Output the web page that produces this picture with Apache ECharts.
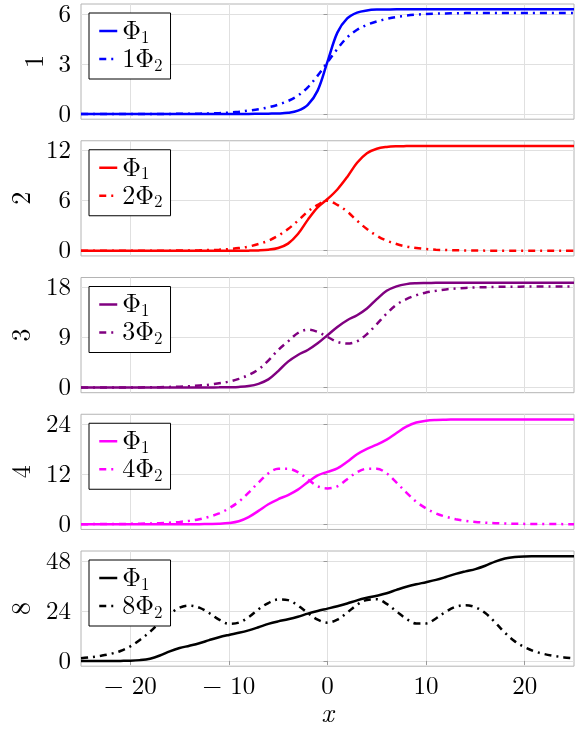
<!DOCTYPE html>
<html>
<head>
<meta charset="utf-8">
<script src="https://cdn.jsdelivr.net/npm/echarts@6/dist/echarts.min.js"></script>
<style>
  html, body { margin: 0; padding: 0; background: #fff; }
  #chart { width: 588px; height: 729px; }
</style>
</head>
<body>
<div id="chart"></div>
<script>
// Sample positions along x
const xs = [-25,-24,-23,-22,-21,-20,-19,-18,-17,-16,-15,-14,-13,-12,-11,-10,-9,-8,-7,-6,-5,-4,-3,-2,-1,
            0,1,2,3,4,5,6,7,8,9,10,11,12,13,14,15,16,17,18,19,20,21,22,23,24,25];

// N = 1
const phi1_n1 = [0,0,0,0,0,0,0,0,0,0,0,0,0,0,0,0,0,0,
                 0.01,0.02,0.03,0.07,0.2,0.55,1.4,3.14,4.88,5.73,6.08,6.21,6.26,6.27,
                 6.28,6.28,6.28,6.28,6.28,6.28,6.28,6.28,6.28,6.28,6.28,6.28,6.28,6.28,6.28,6.28,6.28,6.28,6.28];
const phi2_n1 = [0,0,0,0,0,0,0,0,0,0,
                 0.01,0.01,0.02,0.03,0.05,0.08,0.13,0.2,0.28,0.4,0.56,0.78,1.1,1.6,2.3,3.1,
                 3.9,4.6,5.05,5.35,5.55,5.7,5.82,5.9,5.96,6.0,6.02,6.03,6.04,
                 6.05,6.05,6.05,6.05,6.05,6.05,6.05,6.05,6.05,6.05,6.05,6.05];

// N = 2
const phi1_n2 = [0,0,0,0,0,0,0,0,0,0,0,0,0,0,0,0,0,
                 0.01,0.04,0.12,0.33,0.85,2.0,3.7,5.2,6.2,7.35,8.85,10.55,11.7,12.24,12.45,12.53,12.55,12.56,
                 12.57,12.57,12.57,12.57,12.57,12.57,12.57,12.57,12.57,12.57,12.57,12.57,12.57,12.57,12.57,12.57];
const phi2_n2 = [0.01,0.01,0.01,0.01,0.01,0.01,0.01,0.01,0.01,0.01,
                 0.02,0.03,0.05,0.08,0.12,0.2,0.32,0.5,0.8,1.2,1.8,2.6,3.6,4.7,5.5,6.0,
                 5.5,4.7,3.6,2.6,1.8,1.2,0.8,0.5,0.32,0.2,0.12,0.08,0.05,0.03,0.02,
                 0.01,0.01,0.01,0.01,0.01,0.01,0.01,0.01,0.01,0.01];

// N = 3
const phi1_n3 = [0,0,0,0,0,0,0,0,0,0,0,0,0,
                 0.01,0.02,0.05,0.1,0.25,0.65,1.45,2.95,4.65,5.85,6.75,7.95,9.42,
                 10.9,12.1,13.0,14.2,15.9,17.4,18.2,18.6,18.75,18.8,18.83,18.84,
                 18.85,18.85,18.85,18.85,18.85,18.85,18.85,18.85,18.85,18.85,18.85,18.85,18.85];
const phi2_n3 = [0,0,0,0,0,0,0.01,0.03,0.05,0.1,0.15,0.23,0.35,0.5,0.75,1.05,1.55,2.25,3.25,4.85,6.75,8.3,9.8,10.4,10.0,
                 9.1,8.2,7.9,8.3,9.6,11.4,13.3,14.9,15.9,16.6,17.1,17.4,17.65,17.8,17.92,18.0,18.05,18.1,18.12,18.14,
                 18.15,18.15,18.15,18.15,18.15,18.15];

// N = 4
const phi1_n4 = [0,0,0,0,0,0,0,0,0,0,0,0,
                 0.01,0.05,0.11,0.28,0.7,1.7,3.2,4.8,6.0,7.0,8.3,10.1,11.7,12.57,
                 13.4,15.0,16.8,18.1,19.1,20.3,21.9,23.4,24.4,24.85,25.02,25.08,25.12,
                 25.13,25.13,25.13,25.13,25.13,25.13,25.13,25.13,25.13,25.13,25.13,25.13];
const phi2_n4 = [0.01,0.02,0.03,0.04,0.05,0.08,0.12,0.18,0.26,0.38,0.55,0.8,1.2,1.8,2.6,3.8,5.4,7.6,10.0,12.2,13.3,13.3,12.5,10.8,9.1,
                 8.6,
                 9.1,10.8,12.5,13.3,13.3,12.2,10.0,7.6,5.4,3.8,2.6,1.8,1.2,0.8,0.55,0.38,0.26,0.18,0.12,0.08,0.05,0.04,0.03,0.02,0.01];

// N = 8
const phi1_n8 = [0,0,0,0,
                 0.04,0.1,0.4,1.1,2.6,4.6,6.2,7.3,8.5,10.0,11.4,12.5,13.5,14.7,16.2,17.8,19.0,20.0,21.2,22.7,24.0,25.13,
                 26.3,27.6,29.1,30.3,31.3,32.5,34.1,35.6,36.8,37.8,38.9,40.3,41.8,43.0,44.1,45.7,47.7,49.2,49.9,50.17,50.23,
                 50.27,50.27,50.27,50.27];
const phi2_n8 = [1.3,1.8,2.5,3.4,4.8,7.0,10.2,14.0,18.5,22.5,25.6,26.6,25.6,23.0,19.8,17.9,18.4,21.0,24.8,27.8,29.5,29.2,26.6,23.0,19.8,
                 18.4,
                 19.8,23.2,27.0,29.3,29.6,27.4,23.8,20.2,18.0,18.0,20.4,23.6,26.0,26.8,25.8,23.0,18.5,13.5,9.4,6.6,4.6,3.3,2.4,1.7,1.2];

// Panel labels, upper plateau of Φ1 and y tick values
const panelN = ['1', '2', '3', '4', '8'];
const plateau = [6.2832, 12.5664, 18.8496, 25.1327, 50.2655];
const yTicks = [[0, 3, 6], [0, 6, 12], [0, 9, 18], [0, 12, 24], [0, 24, 48]];
const xTicks = [-20, -10, 0, 10, 20];
const phi1Sets = [phi1_n1, phi1_n2, phi1_n3, phi1_n4, phi1_n8];
const phi2Sets = [phi2_n1, phi2_n2, phi2_n3, phi2_n4, phi2_n8];
const colors = ['#0000ff', '#ff0000', '#800080', '#ff00ff', '#000000'];

const FONT = "'Latin Modern Roman','CMU Serif','Liberation Serif','DejaVu Serif',serif";
const tops = [4, 140.75, 277.5, 414.25, 551];
const H = 115.2;
const dashDot = [7, 5, 2, 5];

const grids = [], xAxes = [], yAxes = [], series = [], legends = [];
const legendText = {};

panelN.forEach((n, i) => {
  const last = i === panelN.length - 1;
  const top = plateau[i];
  grids.push({
    left: 81, right: 14, top: tops[i], height: H,
    show: true, borderColor: '#b4b4b4', borderWidth: 1, backgroundColor: 'transparent'
  });
  xAxes.push({
    type: 'value', gridIndex: i, min: -25, max: 25,
    axisLine: { show: false },
    axisTick: { show: last, customValues: xTicks, length: 4, lineStyle: { color: '#9a9a9a' } },
    axisLabel: {
      show: last, customValues: xTicks, margin: 8,
      fontFamily: FONT, fontSize: 25, color: '#000',
      formatter: v => (v < 0 ? '\u2212 ' + Math.abs(v) : String(v))
    },
    splitLine: { show: true, lineStyle: { color: '#e0e0e0', width: 1 } },
    name: last ? 'x' : '', nameLocation: 'middle', nameGap: 33,
    nameTextStyle: { fontFamily: FONT, fontSize: 27, fontStyle: 'italic', color: '#000' }
  });
  yAxes.push({
    type: 'value', gridIndex: i, min: -0.05 * top, max: 1.05 * top,
    axisLine: { show: false },
    axisTick: { show: true, customValues: yTicks[i], length: 4, lineStyle: { color: '#9a9a9a' } },
    axisLabel: { customValues: yTicks[i], margin: 10, fontFamily: FONT, fontSize: 25, color: '#000' },
    splitLine: { show: true, lineStyle: { color: '#e0e0e0', width: 1 } },
    name: n, nameLocation: 'middle', nameRotate: 90, nameGap: i === 0 ? 27 : 39,
    nameTextStyle: { fontFamily: FONT, fontSize: 26, color: '#000' }
  });

  const nameA = 'phi1_' + n, nameB = 'phi2_' + n;
  legendText[nameA] = '{m|\u03A6}{s|1}';
  legendText[nameB] = '{m|' + n + '\u03A6}{s|2}';

  [[nameA, phi1Sets[i], 'solid'], [nameB, phi2Sets[i], dashDot]].forEach(([nm, vals, ty]) => {
    series.push({
      type: 'line', name: nm, xAxisIndex: i, yAxisIndex: i,
      data: xs.map((x, k) => [x, vals[k]]),
      smooth: 0.35, symbol: 'none', showSymbol: false,
      lineStyle: { color: colors[i], width: 2.5, type: ty },
      itemStyle: { color: colors[i] }
    });
  });

  legends.push({
    data: [nameA, nameB], orient: 'vertical',
    left: 89, top: tops[i] + 9,
    padding: [5, 8, 5, 9], itemGap: 0, itemWidth: 18, itemHeight: 14,
    borderColor: '#000', borderWidth: 1, backgroundColor: '#fff',
    selectedMode: false,
    // only the line sample is shown, no marker
    itemStyle: { opacity: 0 },
    lineStyle: { width: 2.5 },
    formatter: nm => legendText[nm],
    textStyle: {
      fontFamily: FONT, fontSize: 26, color: '#000',
      rich: {
        m: { fontFamily: FONT, fontSize: 26, lineHeight: 30, color: '#000' },
        s: { fontFamily: FONT, fontSize: 17, lineHeight: 18, verticalAlign: 'bottom', color: '#000' }
      }
    }
  });
});

const chart = echarts.init(document.getElementById('chart'), null, { renderer: 'canvas' });
chart.setOption({
  animation: false,
  backgroundColor: '#fff',
  grid: grids,
  xAxis: xAxes,
  yAxis: yAxes,
  legend: legends,
  series: series
});
</script>
</body>
</html>
